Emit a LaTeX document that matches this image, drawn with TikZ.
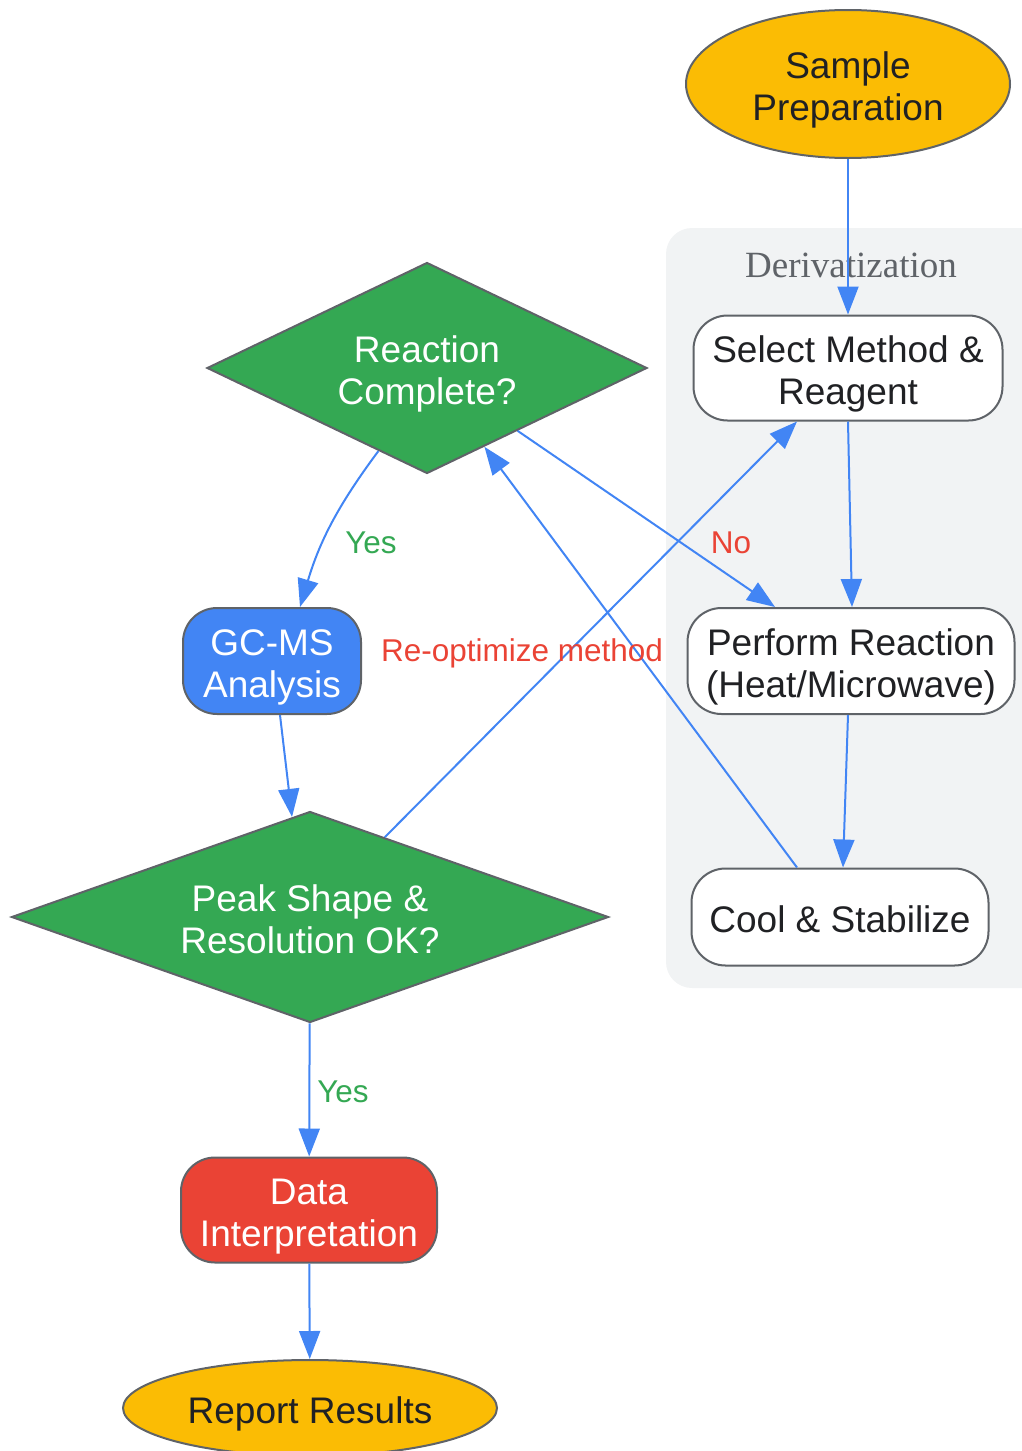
\documentclass[tikz,border=0pt]{standalone}
\usepackage{fontspec}
\setmainfont{Liberation Sans}
\newfontfamily\clusterfont{Liberation Serif}
\usetikzlibrary{shapes.geometric,arrows.meta,calc}
\definecolor{gblue}{HTML}{4285F4}
\definecolor{ggreen}{HTML}{34A853}
\definecolor{gred}{HTML}{EA4335}
\definecolor{gyellow}{HTML}{FBBC04}
\definecolor{gborder}{HTML}{5F6368}
\definecolor{gtext}{HTML}{202124}
\definecolor{gcluster}{HTML}{F1F3F4}
\begin{document}
\begin{tikzpicture}[x=1pt,y=-1pt,
  base/.style={draw=gborder, line width=2pt, align=center, inner sep=0pt,
    font=\fontsize{37}{42}\selectfont, text=gtext,
    text height=40pt, text depth=9.5pt},
  twoline/.style={text height=82pt},
  procbox/.style={base, rectangle, rounded corners=34pt, fill=white},
  oval/.style={base, ellipse, fill=gyellow},
  decision/.style={base, diamond, fill=ggreen, text=white},
  conn/.style={draw=gblue, line width=2pt, -{Triangle[length=28pt,width=21pt]}},
  lbl/.style={font=\fontsize{31.5}{36}\selectfont, inner sep=0pt}]
\useasboundingbox (0,0) rectangle (1022,1451);
\clip (0,0) rectangle (1022,1451);
% cluster
\fill[gcluster, rounded corners=26pt] (666,228) rectangle (1060,988);
\node[font=\clusterfont\fontsize{37}{42}\selectfont, text=gborder, inner sep=0pt] (clab) at (851,265) {Derivatization};
% nodes
\node[oval, twoline, minimum width=324pt, minimum height=148pt] (sample) at (848,84) {Sample\\Preparation};
\node[procbox, twoline, minimum width=309pt, minimum height=105pt] (select) at (848,368) {Select Method \&\\Reagent};
\node[procbox, twoline, minimum width=327pt, minimum height=106pt] (perform) at (851,661) {Perform Reaction\\(Heat/Microwave)};
\node[procbox, minimum width=297pt, minimum height=97pt] (cool) at (840,917) {Cool \& Stabilize};
\node[decision, twoline, aspect=2.1, minimum width=440pt, minimum height=211pt] (rc) at (427,368) {Reaction\\Complete?};
\node[procbox, twoline, fill=gblue, text=white, minimum width=178pt, minimum height=106pt] (gcms) at (272,661) {GC-MS\\Analysis};
\node[decision, twoline, aspect=2.84, minimum width=597pt, minimum height=211pt] (peak) at (310,917) {Peak Shape \&\\Resolution OK?};
\node[procbox, twoline, fill=gred, text=white, minimum width=256pt, minimum height=105pt] (data) at (309,1210) {Data\\Interpretation};
\node[oval, minimum width=374pt, minimum height=96pt] (report) at (310,1408) {Report Results};
% connectors
\draw[conn] (sample) -- (select);
\draw[conn] (select.south) -- ([xshift=1pt]perform.north);
\draw[conn] ([xshift=-3pt]perform.south) -- ([xshift=3pt]cool.north);
\draw[conn] ([xshift=-43pt]cool.north) -- ($(rc.south)!0.26!(rc.east)$);
\draw[conn] ($(rc.south)!0.41!(rc.east)$) -- ([xshift=-76pt]perform.north);
\draw[conn] ($(rc.south)!0.22!(rc.west)$) to[bend right=10] ([xshift=28pt]gcms.north);
\draw[conn] ([xshift=8pt]gcms.south) -- ($(peak.north)!0.06!(peak.west)$);
\draw[conn] ($(peak.north)!0.25!(peak.east)$) -- ([xshift=-51pt]select.south);
\draw[conn] (peak) -- (data);
\draw[conn] (data) -- (report);
% labels
\node[lbl, text=ggreen] (l1) at (371,543) {Yes};
\node[lbl, text=gred] (l2) at (731,543) {No};
\node[lbl, text=gred] (l3) at (522,653) {Re-optimize method};
\node[lbl, text=ggreen] (l4) at (343,1092) {Yes};
\end{tikzpicture}
\end{document}
